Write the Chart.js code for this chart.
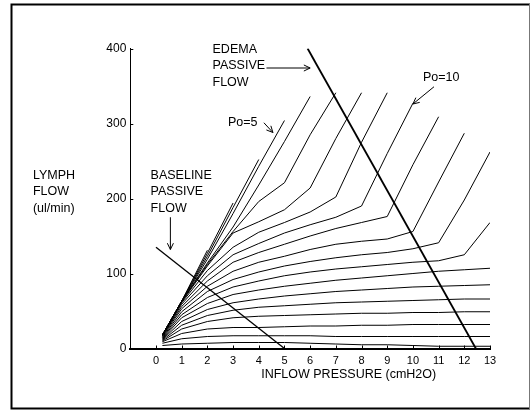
<!DOCTYPE html>
<html>
<head>
<meta charset="utf-8">
<script src="https://cdn.jsdelivr.net/npm/chart.js@4.4.0/dist/chart.umd.min.js"></script>
<style>
  html, body { margin: 0; padding: 0; background: #fff; }
  #wrap { width: 531px; height: 411px; }
</style>
</head>
<body>
<div id="wrap"><canvas id="chart" width="531" height="411"></canvas></div>
<script>
/* Lymph flow vs inflow pressure, one curve per outflow pressure Po. */
(function () {
  "use strict";

  var pressures = [0.25, 1, 2, 3, 4, 5, 6, 7, 8, 9, 10, 11, 12, 13];

  var flowPo2 = [18, 63, 131];
  var flowPo3 = [18, 63, 127, 194];
  var flowPo4 = [18, 63, 123, 188, 252];
  var flowPo5 = [18, 63, 119, 180, 243, 304];
  var flowPo6 = [18, 63, 114, 162, 218, 276, 336];
  var flowPo7 = [18, 63, 112, 156, 196, 221, 285, 341];
  var flowPo8 = [18, 62, 110, 154, 169, 185, 214, 280, 341];
  var flowPo9 = [18, 61, 104, 135, 155, 168, 182, 202, 275, 341];
  var flowPo10 = [17, 59, 97, 125, 140, 154, 165, 175, 190, 260, 327];
  var flowPo11 = [17, 56, 90, 115, 128, 139, 150, 160, 168, 176, 245, 309];
  var flowPo12 = [16, 53, 83, 103, 115, 123, 132, 139, 143, 146, 156, 222, 287];
  var flowPo13 = [15, 49, 76, 92, 102, 110, 116, 121, 125, 128, 133, 141, 198, 262];
  var flowPo14 = [14, 45, 68, 82, 90, 97, 102, 106, 109, 112, 115, 117, 125, 168];
  var flowPo15 = [13, 41, 60, 72, 78, 83, 87, 91, 94, 97, 100, 103, 105, 107];
  var flowPo16 = [12, 36, 52, 61, 66, 70, 73, 76, 78, 80, 82, 83, 84, 85];
  var flowPo17 = [11, 31, 44, 51, 55, 57, 59, 61, 62, 63, 64, 65, 66, 66];
  var flowPo18 = [10, 26, 36, 41, 43, 44, 45, 46, 47, 47, 48, 48, 49, 49];
  var flowPo19 = [9, 20, 26, 28, 28, 29, 30, 30, 31, 31, 32, 32, 32, 32];
  var flowPo20 = [7, 13, 16, 17, 17, 17, 17, 16, 16, 16, 16, 16, 16, 16];
  var flowPo21 = [4, 6, 7, 8, 8, 8, 7, 6, 5, 5, 4, 3, 3, 3];

  var baselineX = [0, 5];
  var baselineY = [135, 0];
  var edemaX = [5.9, 12.45];
  var edemaY = [400, 0];

  var xTicks = [0, 1, 2, 3, 4, 5, 6, 7, 8, 9, 10, 11, 12, 13];
  var yTicks = [0, 100, 200, 300, 400];

  var FONT = '"Liberation Sans", Arial, Helvetica, sans-serif';

  function points(xs, ys) {
    return ys.map(function (y, i) { return { x: xs[i], y: y }; });
  }

  var curves = [flowPo2, flowPo3, flowPo4, flowPo5, flowPo6, flowPo7, flowPo8,
    flowPo9, flowPo10, flowPo11, flowPo12, flowPo13, flowPo14, flowPo15,
    flowPo16, flowPo17, flowPo18, flowPo19, flowPo20, flowPo21];

  var datasets = curves.map(function (ys) {
    return { data: points(pressures, ys), borderColor: "#000", borderWidth: 1 };
  });
  datasets.push({ data: points(baselineX, baselineY), borderColor: "#000", borderWidth: 1.3 });
  datasets.push({ data: points(edemaX, edemaY), borderColor: "#000", borderWidth: 1.8 });

  function arrow(ctx, x1, y1, x2, y2) {
    var a = Math.atan2(y2 - y1, x2 - x1), h = 7, s = 0.45;
    ctx.beginPath();
    ctx.moveTo(x1, y1);
    ctx.lineTo(x2, y2);
    ctx.moveTo(x2 - h * Math.cos(a - s), y2 - h * Math.sin(a - s));
    ctx.lineTo(x2, y2);
    ctx.lineTo(x2 - h * Math.cos(a + s), y2 - h * Math.sin(a + s));
    ctx.stroke();
  }

  var annotate = {
    id: "annotate",
    afterDraw: function (chart) {
      var ctx = chart.ctx, xs = chart.scales.x, ys = chart.scales.y;
      var X = function (v) { return xs.getPixelForValue(v); };
      var Y = function (v) { return ys.getPixelForValue(v); };
      var area = chart.chartArea;
      ctx.save();

      // frame
      ctx.strokeStyle = "#000";
      ctx.lineWidth = 2;
      ctx.beginPath();
      ctx.moveTo(530, 4.5); ctx.lineTo(11.5, 4.5); ctx.lineTo(11.5, 408.5); ctx.lineTo(530, 408.5);
      ctx.stroke();
      ctx.strokeStyle = "#777";
      ctx.lineWidth = 1;
      ctx.beginPath();
      ctx.moveTo(529.5, 4); ctx.lineTo(529.5, 409);
      ctx.stroke();

      // inward ticks
      ctx.strokeStyle = "#000";
      ctx.lineWidth = 1;
      ctx.beginPath();
      xTicks.forEach(function (v) {
        var p = Math.round(X(v)) + 0.5;
        ctx.moveTo(p, area.bottom); ctx.lineTo(p, area.bottom - 3);
      });
      yTicks.forEach(function (v) {
        var p = Math.round(Y(v)) + 0.5;
        ctx.moveTo(area.left, p); ctx.lineTo(area.left + 3, p);
      });
      ctx.stroke();

      ctx.fillStyle = "#000";
      ctx.font = "12.5px " + FONT;
      ctx.textBaseline = "middle";
      ctx.textAlign = "left";
      function lines(x, y, arr) {
        arr.forEach(function (t, i) { ctx.fillText(t, X(x), Y(y) + i * 16.5); });
      }
      lines(2.2, 399, ["EDEMA", "PASSIVE", "FLOW"]);
      lines(-0.21, 231, ["BASELINE", "PASSIVE", "FLOW"]);
      lines(-4.79, 231, ["LYMPH", "FLOW", "(ul/min)"]);
      ctx.fillText("Po=10", X(10.39), Y(361));
      ctx.fillText("Po=5", X(2.8), Y(301));
      ctx.textAlign = "center";
      ctx.fillText("INFLOW PRESSURE (cmH2O)", X(7.5), area.bottom + 26);

      ctx.lineWidth = 1;
      arrow(ctx, X(4.3), Y(374), X(6.0), Y(374));
      arrow(ctx, X(10.82), Y(349), X(10.0), Y(326));
      arrow(ctx, X(4.2), Y(301), X(4.55), Y(288));
      arrow(ctx, X(0.56), Y(175), X(0.56), Y(132));
      ctx.restore();
    }
  };

  new Chart(document.getElementById("chart"), {
    type: "scatter",
    data: { datasets: datasets },
    options: {
      responsive: false,
      animation: false,
      showLine: true,
      elements: { point: { radius: 0 }, line: { tension: 0 } },
      layout: { padding: { left: 0, right: 41, top: 48.5, bottom: 0 } },
      plugins: { legend: { display: false }, tooltip: { enabled: false } },
      scales: {
        x: {
          type: "linear",
          min: -1,
          max: 13,
          afterBuildTicks: function (scale) {
            scale.ticks = xTicks.map(function (v) { return { value: v }; });
          },
          afterFit: function (scale) { scale.height = 62.5; },
          grid: { display: true, drawOnChartArea: false, drawTicks: false },
          border: { display: true, color: "#000", width: 2 },
          ticks: { color: "#000", padding: 6, maxRotation: 0, autoSkip: false, font: { family: FONT, size: 11 } }
        },
        y: {
          type: "linear",
          min: 0,
          max: 400,
          afterBuildTicks: function (scale) {
            scale.ticks = yTicks.map(function (v) { return { value: v }; });
          },
          afterFit: function (scale) { scale.width = 130.3; },
          grid: { display: true, drawOnChartArea: false, drawTicks: false },
          border: { display: true, color: "#000", width: 1 },
          ticks: { color: "#000", padding: 4, autoSkip: false, font: { family: FONT, size: 12 } }
        }
      }
    },
    plugins: [annotate]
  });
})();
</script>
</body>
</html>
